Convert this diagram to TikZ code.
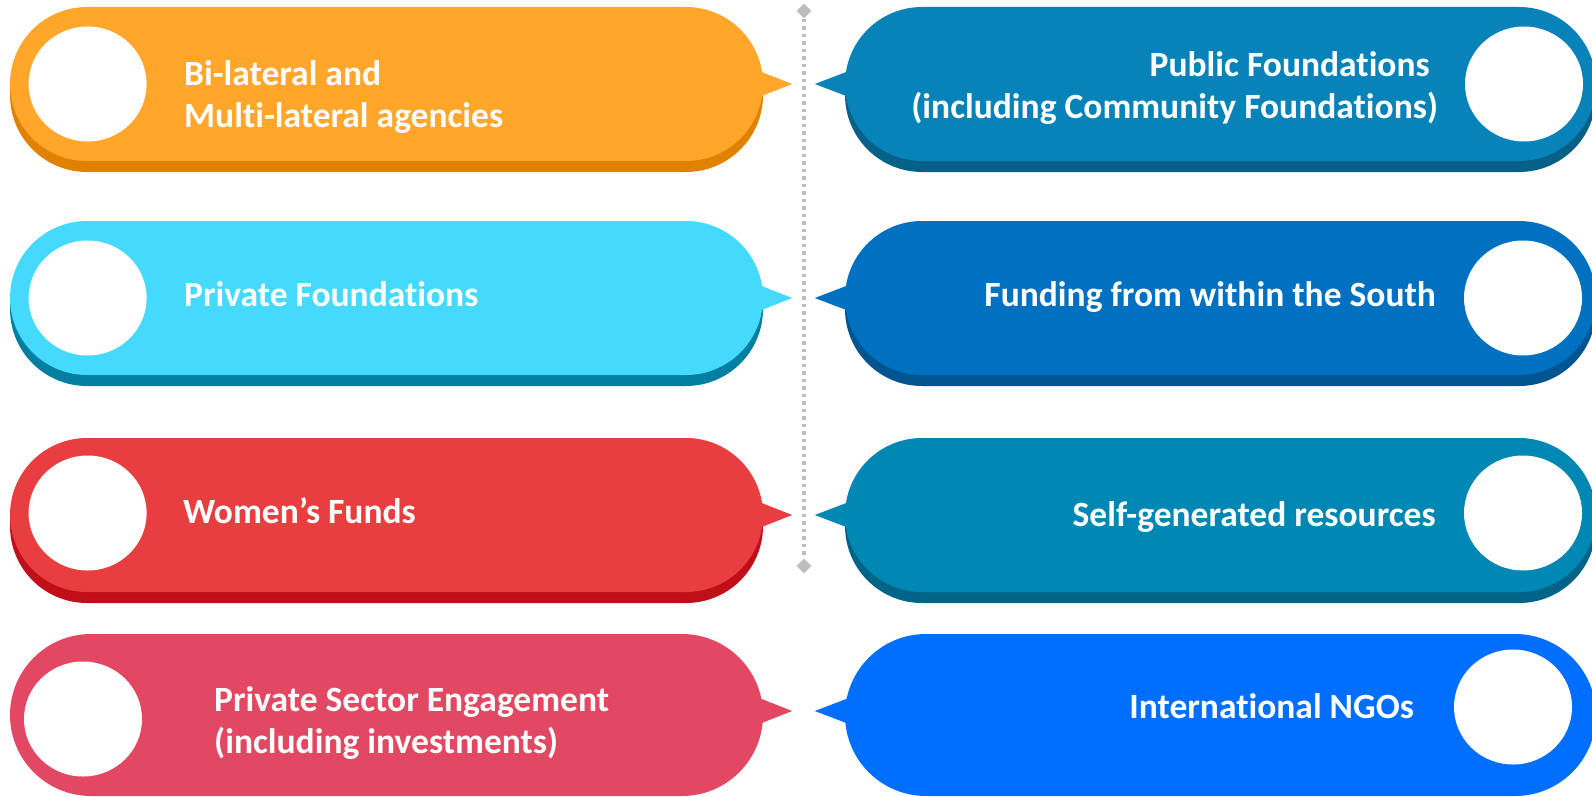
\documentclass[tikz,border=0pt]{standalone}
\usepackage{fontspec}
\setmainfont{Carlito}[RawFeature={-liga;-clig;-calt;-dlig}]
\usetikzlibrary{shapes.misc,shapes.geometric}
\definecolor{orgA}{HTML}{FFA62B}
\definecolor{orgB}{HTML}{E08100}
\definecolor{pubA}{HTML}{0883BA}
\definecolor{pubB}{HTML}{066088}
\definecolor{cyaA}{HTML}{45D9FD}
\definecolor{cyaB}{HTML}{007FA0}
\definecolor{souA}{HTML}{0071C1}
\definecolor{souB}{HTML}{00548F}
\definecolor{redA}{HTML}{E83E3F}
\definecolor{redB}{HTML}{C00F18}
\definecolor{sgrA}{HTML}{0087B4}
\definecolor{sgrB}{HTML}{006388}
\definecolor{pnkA}{HTML}{E24862}
\definecolor{ngoA}{HTML}{006FFF}
\definecolor{dotgray}{HTML}{BDBDBD}
\tikzset{pill/.style={rounded rectangle,minimum height=154pt,inner sep=0pt,draw=none},
  lpill/.style={pill,minimum width=753pt},
  rpill/.style={pill,minimum width=751pt},
  hole/.style={ellipse,fill=white,minimum width=118pt,minimum height=115pt,inner sep=0pt},
  txt/.style={text=white,inner sep=0pt,font=\fontsize{35.5}{42}\selectfont\bfseries},
  dmd/.style={diamond,fill=dotgray,minimum size=15pt,inner sep=0pt},
  dots/.style={draw=dotgray,line width=3.2pt,dash pattern=on 3.5pt off 4pt}}

\begin{document}
\begin{tikzpicture}[x=1pt,y=-1pt]
\useasboundingbox (0,0) rectangle (1592,797);
% left column
\node[lpill,fill=orgB] at (386.5,95) {};
\node[lpill,fill=orgA] (bilat) at (386.5,84) {};
\fill[orgA] ([xshift=-4pt,yshift=13pt]bilat.east) -- ([xshift=29pt]bilat.east) -- ([xshift=-4pt,yshift=-13pt]bilat.east) -- cycle;
\node[lpill,fill=cyaB] at (386.5,309) {};
\node[lpill,fill=cyaA] (privf) at (386.5,298) {};
\fill[cyaA] ([xshift=-4pt,yshift=13pt]privf.east) -- ([xshift=29pt]privf.east) -- ([xshift=-4pt,yshift=-13pt]privf.east) -- cycle;
\node[lpill,fill=redB] at (386.5,526) {};
\node[lpill,fill=redA] (women) at (386.5,515) {};
\fill[redA] ([xshift=-4pt,yshift=13pt]women.east) -- ([xshift=29pt]women.east) -- ([xshift=-4pt,yshift=-13pt]women.east) -- cycle;
\node[lpill,fill=pnkA,minimum height=162pt] (privs) at (386.5,715) {};
\fill[pnkA] ([xshift=-4pt,yshift=17pt]privs.east) -- ([xshift=29pt,yshift=4pt]privs.east) -- ([xshift=-4pt,yshift=-9pt]privs.east) -- cycle;
% right column
\node[rpill,fill=pubB] at (1220.5,95) {};
\node[rpill,fill=pubA] (pubf) at (1220.5,84) {};
\fill[pubA] ([xshift=4pt,yshift=13pt]pubf.west) -- ([xshift=-30pt]pubf.west) -- ([xshift=4pt,yshift=-13pt]pubf.west) -- cycle;
\node[rpill,fill=souB] at (1220.5,309) {};
\node[rpill,fill=souA] (south) at (1220.5,298) {};
\fill[souA] ([xshift=4pt,yshift=13pt]south.west) -- ([xshift=-30pt]south.west) -- ([xshift=4pt,yshift=-13pt]south.west) -- cycle;
\node[rpill,fill=sgrB] at (1220.5,526) {};
\node[rpill,fill=sgrA] (selfg) at (1220.5,515) {};
\fill[sgrA] ([xshift=4pt,yshift=13pt]selfg.west) -- ([xshift=-30pt]selfg.west) -- ([xshift=4pt,yshift=-13pt]selfg.west) -- cycle;
\node[rpill,fill=ngoA,minimum height=162pt] (ingo) at (1220.5,715) {};
\fill[ngoA] ([xshift=4pt,yshift=17pt]ingo.west) -- ([xshift=-30pt,yshift=4pt]ingo.west) -- ([xshift=4pt,yshift=-9pt]ingo.west) -- cycle;
% holes
\node[hole] (h1) at (87.6,84) {};
\node[hole] (h2) at (87.6,298) {};
\node[hole] (h3) at (87.6,513) {};
\node[hole] (h4) at (83,719) {};
\node[hole] (h5) at (1524,84) {};
\node[hole] (h6) at (1523,298) {};
\node[hole] (h7) at (1523,513) {};
\node[hole] (h8) at (1513,707) {};
% texts (two-line nodes sit on their last baseline)
\node[txt,anchor=base west,align=left] (t1) at (184,128) {Bi-lateral and\\Multi-lateral agencies};
\node[txt,anchor=base west] (t2) at (184,306) {Private Foundations};
\node[txt,anchor=base west] (t3) at (183,523) {Women’s Funds};
\node[txt,anchor=base west,align=left] (t4) at (214,753) {Private Sector Engagement\\(including investments)};
\node[txt,anchor=base east,align=right] (t5) at (1438,118) {Public Foundations\hspace*{.23em}\\(including Community Foundations)};
\node[txt,anchor=base east] (t6) at (1436,306) {Funding from within the South};
\node[txt,anchor=base east] (t7) at (1436,526) {Self-generated resources};
\node[txt,anchor=base east] (t8) at (1414,718) {International NGOs};
% divider
\node[dmd] (dtop) at (804,11) {};
\node[dmd] (dbot) at (804,566) {};
\draw[dots] (dtop) -- (dbot);
\end{tikzpicture}
\end{document}
